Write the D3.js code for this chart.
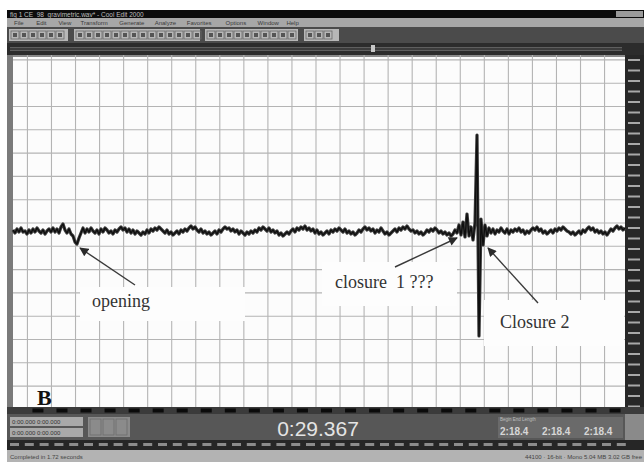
<!DOCTYPE html>
<html>
<head>
<meta charset="utf-8">
<script src="https://cdn.jsdelivr.net/npm/d3@7"></script>
<style>
  html, body { margin: 0; padding: 0; background: #ffffff; }
  svg { display: block; }
</style>
</head>
<body>
<script>
// Recorded trace: amplitude per sample (positive = upward deflection)
const traceValues = [
  1,-2,2,-1,3,-1,0,-3,1,-2,2,-1,3,0,-2,1,-3,0,2,-1,
  3,-1,2,-2,4,7,1,-2,2,-3,-5,-11,-13,-7,-2,3,-2,2,-1,3,
  0,-2,1,-3,2,-1,3,1,-2,0,-3,1,-1,2,4,1,3,-1,2,-2,
  1,-3,0,-2,-4,-1,-3,1,-2,2,0,3,1,4,2,0,-2,1,-3,-1,
  -4,-2,0,-3,1,-1,2,0,3,5,2,4,1,-1,2,-2,0,-3,-1,-4,
  -2,0,-3,1,-1,2,4,2,3,0,2,-1,1,-3,0,-2,-4,-1,-3,0,
  -2,1,-1,3,1,4,2,0,3,-1,1,-2,0,-4,-2,-5,-3,-1,-3,0,
  2,-1,3,1,4,2,5,1,3,0,2,-2,1,-3,-1,-4,-2,0,-3,1,
  -1,2,0,3,1,-1,2,-2,0,-3,-1,-4,-2,1,-1,2,4,1,3,0,
  2,-2,1,-1,3,0,-3,-1,-4,-2,0,2,-1,3,1,4,2,5,2,0,
  1,-2,0,-3,-1,-4,-2,1,-1,2,0,3,1,-2,0,-3,-1,-4,-2,-5,
  -3,1,-2,6,-4,9,-6,17,-5,4,-9,8,96,-105,12,-14,6,-5,3,-2,
  2,-3,1,-1,3,0,-2,2,-3,1,-1,2,0,3,-1,1,-3,0,-2,1,
  3,1,4,0,2,-2,0,-3,-1,1,-2,2,0,3,1,4,2,0,-1,-3,
  -1,-4,-2,0,-3,1,-1,2,4,1,3,-1,1,-2,0,-3,-1,-4,-1,2,
  0,3,5,2,4,1,3
];

// View span (s) and amplitude span of the waveform window
const timeSpan = [0, 25.45];
const ampSpan = [-176, 176];

// Grid divisions
const gridTimes = d3.range(0.6, 25, 1);
const gridAmps = d3.range(-7, 8).map(m => 8 + 23.3 * m);

// Annotated events: sample index, label
const events = [
  { name: "opening", index: 32, label: "opening" },
  { name: "closure1", index: 223, label: "closure  1 ???" },
  { name: "closure2", index: 232, label: "Closure 2" }
];

const panelLabel = "B";
const clockText = "0:29.367";
const menuItems = ["File", "Edit", "View", "Transform", "Generate", "Analyze", "Favorites", "Options", "Window", "Help"];

const W = 644, H = 464;
const plot = { left: 13, right: 625, top: 55, bottom: 407 };

const svg = d3.select("body").append("svg").attr("width", W).attr("height", H);
svg.append("rect").attr("width", W).attr("height", H).attr("fill", "#ffffff");

const dt = (timeSpan[1] - timeSpan[0]) / (traceValues.length - 1);
const x = d3.scaleLinear().domain(timeSpan).range([plot.left, plot.right]);
const y = d3.scaleLinear().domain(ampSpan).range([plot.bottom, plot.top]);

// ---- application window chrome ----
svg.append("rect").attr("x", 7).attr("y", 10).attr("width", W - 7).attr("height", 452).attr("fill", "#5e5e5e");
// title bar
svg.append("rect").attr("x", 7).attr("y", 10).attr("width", W - 7).attr("height", 8).attr("fill", "#0c0c0c");
svg.append("rect").attr("x", 616).attr("y", 11).attr("width", 27).attr("height", 6).attr("fill", "#9a9a9a");
svg.append("text").attr("x", 10).attr("y", 16.5).attr("font-family", "Liberation Sans").attr("font-size", 6.5)
  .attr("fill", "#bdbdbd").text("fig 1 CE_98_gravimetric.wav* - Cool Edit 2000");
// menu bar
svg.append("rect").attr("x", 7).attr("y", 18).attr("width", W - 7).attr("height", 9).attr("fill", "#a7a7a7");
let mx = 14;
menuItems.forEach(m => {
  svg.append("text").attr("x", mx).attr("y", 25).attr("font-family", "Liberation Sans")
    .attr("font-size", 6).attr("fill", "#3a3a3a").text(m);
  mx += m.length * 3.3 + 9;
});
// toolbar
svg.append("rect").attr("x", 7).attr("y", 27).attr("width", W - 7).attr("height", 16).attr("fill", "#4b4b4b");
[[9, 68], [74, 200], [205, 298], [304, 339]].forEach(([a, b]) => {
  svg.append("rect").attr("x", a).attr("y", 29).attr("width", b - a).attr("height", 12).attr("fill", "#b7b7b7");
  for (let bx = a + 2; bx < b - 6; bx += 9) {
    svg.append("rect").attr("x", bx).attr("y", 31).attr("width", 8).attr("height", 8)
      .attr("fill", "none").attr("stroke", "#6a6a6a").attr("stroke-width", 0.8);
    svg.append("rect").attr("x", bx + 2).attr("y", 33).attr("width", 4).attr("height", 4).attr("fill", "#555");
  }
});
// overview strip
svg.append("rect").attr("x", 7).attr("y", 43).attr("width", W - 7).attr("height", 12).attr("fill", "#2c2c2c");
svg.append("rect").attr("x", 10).attr("y", 47).attr("width", 612).attr("height", 4).attr("fill", "#5f5f5f");
svg.append("rect").attr("x", 10).attr("y", 48.5).attr("width", 612).attr("height", 1).attr("fill", "#1a1a1a");
svg.append("rect").attr("x", 371).attr("y", 45).attr("width", 4).attr("height", 7).attr("fill", "#c8c8c8");

// ---- waveform pane ----
svg.append("rect").attr("x", 7).attr("y", 55).attr("width", 6).attr("height", 352).attr("fill", "#7a7a7a");
svg.append("rect").attr("x", plot.left).attr("y", plot.top).attr("width", plot.right - plot.left)
  .attr("height", plot.bottom - plot.top).attr("fill", "#fcfcfc");
svg.append("rect").attr("x", plot.left).attr("y", plot.top).attr("width", plot.right - plot.left)
  .attr("height", 2).attr("fill", "#8a8a8a");

const grid = svg.append("g");
grid.selectAll("line.v").data(gridTimes).join("line")
  .attr("x1", d => x(d)).attr("x2", d => x(d))
  .attr("y1", plot.top).attr("y2", plot.bottom)
  .attr("stroke", "#b4b4b4").attr("stroke-width", 1.1);
grid.selectAll("line.h").data(gridAmps).join("line")
  .attr("x1", plot.left).attr("x2", plot.right)
  .attr("y1", d => y(d)).attr("y2", d => y(d))
  .attr("stroke", "#b4b4b4").attr("stroke-width", 1.1);

// right-hand amplitude ruler
svg.append("rect").attr("x", 625).attr("y", 55).attr("width", 19).attr("height", 352).attr("fill", "#272727");
svg.selectAll("rect.rtick").data(d3.range(0, 34)).join("rect")
  .attr("x", 628).attr("y", d => 59 + d * 10.5).attr("width", 12).attr("height", 2)
  .attr("fill", "#a8a8a8");

// annotation backgrounds (sit on the grid)
const boxes = [
  { x0: 80, y0: 287, x1: 245, y1: 321 },
  { x0: 322, y0: 262, x1: 457, y1: 306 },
  { x0: 484, y0: 300, x1: 624, y1: 346 }
];
svg.selectAll("rect.lbl").data(boxes).join("rect")
  .attr("x", d => d.x0).attr("y", d => d.y0).attr("width", d => d.x1 - d.x0).attr("height", d => d.y1 - d.y0)
  .attr("fill", "#fdfdfd");

// trace: a soft wide stroke under a crisp thin one gives the dense band look
const line = d3.line().x((d, i) => x(i * dt)).y(d => y(d));
svg.append("path").datum(traceValues).attr("d", line)
  .attr("fill", "none").attr("stroke", "#3a3a3a").attr("stroke-width", 3.2).attr("stroke-linejoin", "round");
svg.append("path").datum(traceValues).attr("d", line)
  .attr("fill", "none").attr("stroke", "#0e0e0e").attr("stroke-width", 1.3).attr("stroke-linejoin", "round");

// arrows and labels
const defs = svg.append("defs");
defs.append("marker").attr("id", "ah").attr("viewBox", "0 0 10 10").attr("refX", 9).attr("refY", 5)
  .attr("markerWidth", 10).attr("markerHeight", 9).attr("orient", "auto")
  .attr("markerUnits", "userSpaceOnUse")
  .append("path").attr("d", "M0,0 L10,5 L0,10 Z").attr("fill", "#2a2a2a");

// arrow tips point just below each event on the baseline
const evByName = Object.fromEntries(events.map(e => [e.name, e]));
const tip = (ev, dx, dy) => [x(ev.index * dt) + dx, y(0) + dy];
const arrows = [
  { from: [135, 285], to: tip(evByName.opening, 3, 17) },
  { from: [395, 267], to: tip(evByName.closure1, -2, 7) },
  { from: [538, 303], to: tip(evByName.closure2, 11, 17) }
];
svg.selectAll("line.arrow").data(arrows).join("line")
  .attr("x1", d => d.from[0]).attr("y1", d => d.from[1])
  .attr("x2", d => d.to[0]).attr("y2", d => d.to[1])
  .attr("stroke", "#3a3a3a").attr("stroke-width", 1.4).attr("marker-end", "url(#ah)");

const labelPos = { opening: [92, 307], closure1: [335, 288], closure2: [500, 328] };
svg.selectAll("text.lbl").data(events).join("text")
  .attr("x", d => labelPos[d.name][0]).attr("y", d => labelPos[d.name][1])
  .attr("font-family", "Liberation Serif").attr("font-size", 18).attr("fill", "#333")
  .attr("xml:space", "preserve").style("white-space", "pre")
  .text(d => d.label);

// ---- transport / status area ----
svg.append("rect").attr("x", 7).attr("y", 407).attr("width", W - 7).attr("height", 7).attr("fill", "#3b3b3b");
svg.selectAll("rect.dash").data(gridTimes).join("rect")
  .attr("x", d => x(d) + 5).attr("y", 408.5).attr("width", 11).attr("height", 4).attr("fill", "#0b0b0b");

svg.append("rect").attr("x", 7).attr("y", 414).attr("width", W - 7).attr("height", 26).attr("fill", "#575757");
[[417], [428]].forEach(([yy]) => {
  svg.append("rect").attr("x", 10).attr("y", yy).attr("width", 73).attr("height", 9).attr("fill", "#a9a9a9");
  svg.append("text").attr("x", 12).attr("y", yy + 7).attr("font-family", "Liberation Sans").attr("font-size", 6)
    .attr("fill", "#333").text("0:00.000  0:00.000");
});
svg.append("rect").attr("x", 88).attr("y", 417).attr("width", 42).attr("height", 20).attr("fill", "#8b8b8b");
[0, 1, 2].forEach(i => svg.append("rect").attr("x", 90 + i * 13).attr("y", 419).attr("width", 11).attr("height", 16)
  .attr("fill", "none").attr("stroke", "#6d6d6d").attr("stroke-width", 0.8));

svg.append("text").attr("x", 318).attr("y", 436).attr("text-anchor", "middle")
  .attr("font-family", "Liberation Sans").attr("font-size", 21).attr("fill", "#e4e4e4").text(clockText);

svg.append("rect").attr("x", 498).attr("y", 417).attr("width", 125).attr("height", 21).attr("fill", "#6a6a6a");
svg.append("text").attr("x", 500).attr("y", 421).attr("font-family", "Liberation Sans").attr("font-size", 4.5)
  .attr("fill", "#bbb").text("Begin       End       Length");
[0, 1, 2].forEach(r => svg.append("text").attr("x", 500 + r * 42).attr("y", 435)
  .attr("font-family", "Liberation Sans").attr("font-size", 10).attr("font-weight", "bold")
  .attr("fill", "#d6d6d6").text("2:18.4"));
svg.append("rect").attr("x", 625).attr("y", 414).attr("width", 19).attr("height", 26).attr("fill", "#8a8a8a");

svg.append("rect").attr("x", 7).attr("y", 440).attr("width", W - 7).attr("height", 10).attr("fill", "#262626");
svg.selectAll("rect.lvl").data(d3.range(0, 42)).join("rect")
  .attr("x", d => 10 + d * 14.8).attr("y", 443).attr("width", 9).attr("height", 3).attr("fill", "#8c8c8c");

svg.append("rect").attr("x", 7).attr("y", 450).attr("width", W - 7).attr("height", 12).attr("fill", "#b3b3b3");
svg.append("text").attr("x", 10).attr("y", 459).attr("font-family", "Liberation Sans").attr("font-size", 6)
  .attr("fill", "#444").text("Completed in 1.72 seconds");
svg.append("text").attr("x", 642).attr("y", 459).attr("text-anchor", "end").attr("font-family", "Liberation Sans")
  .attr("font-size", 6).attr("fill", "#444").text("44100 · 16-bit · Mono   5.04 MB   3.02 GB free");

// panel letter
svg.append("text").attr("x", 37).attr("y", 405).attr("font-family", "Liberation Serif").attr("font-weight", "bold")
  .attr("font-size", 22).attr("fill", "#111").text(panelLabel);
</script>
</body>
</html>
